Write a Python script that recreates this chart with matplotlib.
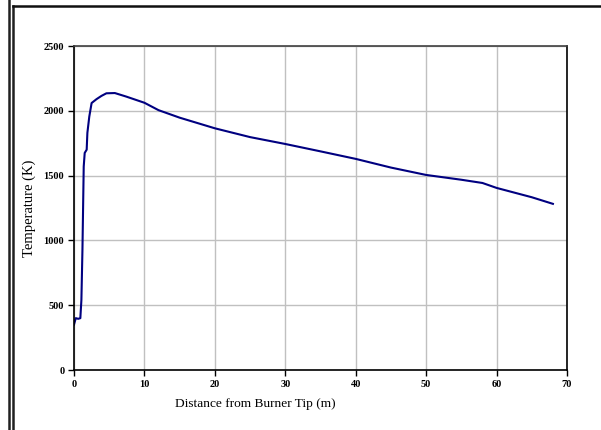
import matplotlib
matplotlib.use("Agg")
import matplotlib.pyplot as plt
from matplotlib.lines import Line2D

# distance from burner tip (m) and gas temperature (K)
distance = [0.0, 0.25, 0.6, 0.9, 1.05, 1.2, 1.38, 1.52, 1.8, 1.9, 2.17, 2.5,
            3.2, 3.9, 4.6, 5.8, 7.4, 10, 12, 15, 20, 25, 30, 35, 40, 45,
            50, 55, 58, 60, 65, 68]
temperature = [350, 400, 395, 400, 540, 930, 1570, 1675, 1700, 1830, 1955, 2060,
               2090, 2115, 2135, 2137, 2110, 2062, 2005, 1947, 1865, 1797, 1744,
               1687, 1629, 1562, 1505, 1468, 1443, 1405, 1333, 1282]

x_ticks = [0, 10, 20, 30, 40, 50, 60, 70]
y_ticks = [0, 500, 1000, 1500, 2000, 2500]

plt.rcParams['font.family'] = ['Liberation Serif', 'DejaVu Serif']

fig = plt.figure(figsize=(6.01, 4.30), dpi=100)
ax = fig.add_axes([74 / 601, 1 - 370 / 430, 493 / 601, 324 / 430])

ax.plot(distance, temperature, color='#000080', linewidth=1.5)

ax.set_xlim(0, 70)
ax.set_ylim(0, 2500)
ax.set_xticks(x_ticks)
ax.set_yticks(y_ticks)
ax.grid(True, color='#c0c0c0', linewidth=1.0)
ax.set_axisbelow(True)
ax.tick_params(direction='out', length=4, width=1, labelsize=7.5, pad=3)
for lbl in ax.get_xticklabels() + ax.get_yticklabels():
    lbl.set_fontweight('bold')
for s in ax.spines.values():
    s.set_linewidth(1.2)
ax.spines['top'].set_color('#404040')

ax.set_xlabel('Distance from Burner Tip (m)', fontsize=9.6)
ax.xaxis.set_label_coords((255 - 74) / 493, -28 / 324)
ax.set_ylabel('Temperature (K)', fontsize=10.5)
ax.yaxis.set_label_coords(-(74 - 36.5) / 493, 0.5)

# outer frame lines of the original page
fig.add_artist(Line2D([8.5 / 601, 8.5 / 601], [0, 1], color='#202020', linewidth=1.8, transform=fig.transFigure))
fig.add_artist(Line2D([12.5 / 601, 12.5 / 601], [0, 1 - 5.5 / 430], color='#202020', linewidth=1.8, transform=fig.transFigure))
fig.add_artist(Line2D([12.5 / 601, 1], [1 - 5.5 / 430, 1 - 5.5 / 430], color='#101010', linewidth=1.8, transform=fig.transFigure))

fig.savefig('out.png', dpi=100)
